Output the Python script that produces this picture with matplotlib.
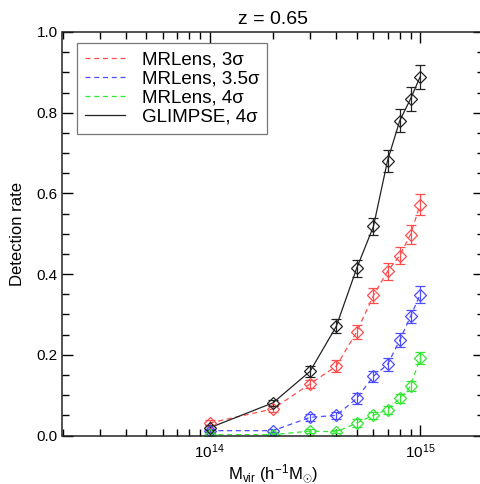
import numpy as np
import matplotlib
matplotlib.use("Agg")
import matplotlib.pyplot as plt
from matplotlib.ticker import LogLocator, MultipleLocator, FixedFormatter, FixedLocator, NullFormatter

plt.rcParams['font.family'] = ['Liberation Sans', 'DejaVu Sans']
plt.rcParams['mathtext.fontset'] = 'custom'
plt.rcParams['mathtext.rm'] = 'Liberation Sans'
plt.rcParams['mathtext.it'] = 'Liberation Sans:italic'
plt.rcParams['mathtext.bf'] = 'Liberation Sans:bold'

# Virial mass bins (h^-1 M_sun)
mass = [1e14, 2e14, 3e14, 4e14, 5e14, 6e14, 7e14, 8e14, 9e14, 1e15]

# Detection rates and their uncertainties
mrlens_3 = [0.031, 0.066, 0.128, 0.172, 0.257, 0.347, 0.407, 0.446, 0.498, 0.572]
mrlens_3_err = [0.007, 0.008, 0.010, 0.015, 0.017, 0.019, 0.021, 0.022, 0.024, 0.026]

mrlens_35 = [0.012, 0.012, 0.045, 0.050, 0.092, 0.147, 0.176, 0.236, 0.295, 0.349]
mrlens_35_err = [0.004, 0.004, 0.008, 0.008, 0.013, 0.014, 0.015, 0.017, 0.017, 0.021]

mrlens_4 = [0.002, 0.002, 0.011, 0.009, 0.031, 0.050, 0.064, 0.092, 0.122, 0.192]
mrlens_4_err = [0.004, 0.004, 0.004, 0.004, 0.009, 0.009, 0.010, 0.012, 0.012, 0.015]

glimpse_4 = [0.019, 0.081, 0.159, 0.271, 0.415, 0.518, 0.681, 0.780, 0.834, 0.889]
glimpse_4_err = [0.006, 0.008, 0.013, 0.017, 0.021, 0.021, 0.027, 0.028, 0.029, 0.030]

series = [
    ("MRLens, 3σ", mrlens_3, mrlens_3_err, "#ff4d4d", (0, (4, 3))),
    ("MRLens, 3.5σ", mrlens_35, mrlens_35_err, "#4d4dff", (0, (4, 3))),
    ("MRLens, 4σ", mrlens_4, mrlens_4_err, "#33e633", (0, (4, 3))),
    ("GLIMPSE, 4σ", glimpse_4, glimpse_4_err, "#222222", "-"),
]

fig = plt.figure(figsize=(4.81, 4.84), dpi=100)
ax = fig.add_axes([62.5 / 481, 48.5 / 484, 421 / 481, 403.5 / 484])

handles = []
for label, vals, errs, color, ls in series:
    ax.errorbar(mass, vals, yerr=errs, color=color, ls='none', marker='D',
                markersize=5.8, mfc='none', mec=color, mew=0.9,
                elinewidth=0.9, capsize=3.5, capthick=0.9)
    ln, = ax.plot(mass, vals, color=color, ls=ls, lw=0.9, label=label)
    handles.append(ln)

ax.set_xscale('log')
ax.set_xlim(2e13, 2e15)
ax.set_ylim(0, 1.0)

ax.xaxis.set_major_locator(FixedLocator([1e14, 1e15]))
ax.xaxis.set_major_formatter(FixedFormatter(['$10^{14}$', '$10^{15}$']))
ax.xaxis.set_minor_locator(LogLocator(base=10, subs=np.arange(2, 10)))
ax.xaxis.set_minor_formatter(NullFormatter())
ax.yaxis.set_major_locator(MultipleLocator(0.2))
ax.yaxis.set_minor_locator(MultipleLocator(0.05))
ax.yaxis.set_major_formatter(matplotlib.ticker.FormatStrFormatter('%.1f'))

ax.tick_params(which='both', direction='in', top=True, right=True, width=1.0)
ax.tick_params(which='major', length=8, labelsize=11)
ax.tick_params(which='minor', length=5)
ax.tick_params(axis='x', which='major', pad=5)
for sp in ax.spines.values():
    sp.set_linewidth(1.1)
    sp.set_color('#222222')

ax.set_title('z = 0.65', fontsize=14, pad=6)
ax.set_ylabel('Detection rate', fontsize=12, labelpad=8)
ax.set_xlabel('M$_{\\rm vir}$ (h$^{-1}$M$_{\\odot}$)', fontsize=12, labelpad=1)

leg = ax.legend(handles=handles, loc='upper left', bbox_to_anchor=(0.034, 0.973),
                fontsize=13.5, frameon=True, fancybox=False, handlelength=2.1,
                handletextpad=0.9, borderpad=0.45, labelspacing=0.1, borderaxespad=0)
leg.get_frame().set_edgecolor('#555555')
leg.get_frame().set_linewidth(0.9)

fig.savefig('out.png', dpi=100)
